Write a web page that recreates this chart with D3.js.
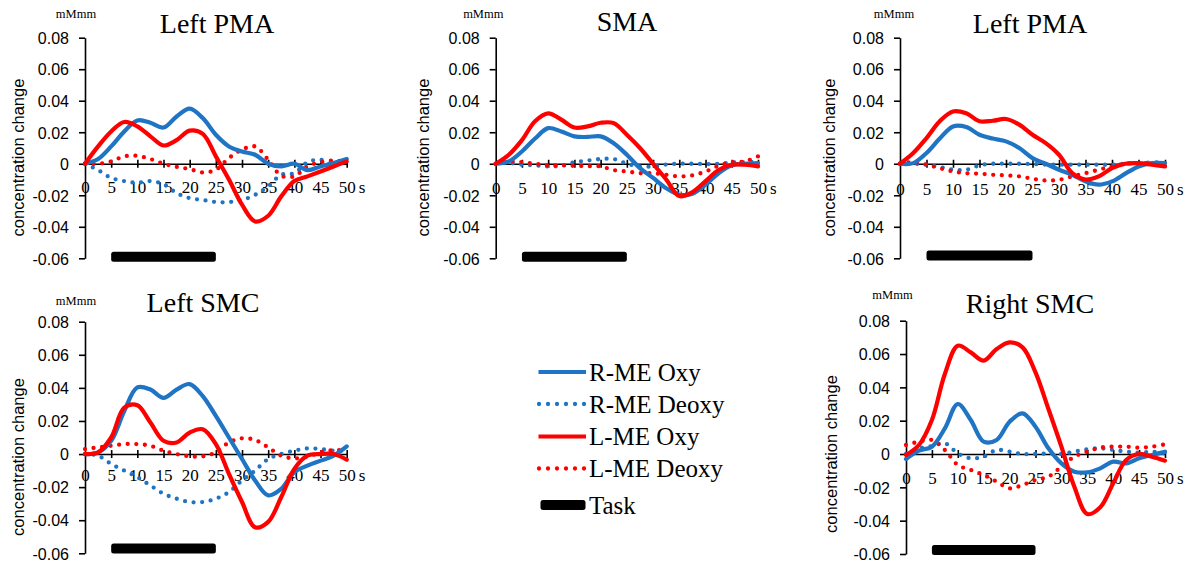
<!DOCTYPE html>
<html>
<head>
<meta charset="utf-8">
<script src="https://cdn.jsdelivr.net/npm/d3@7"></script>
<style>
  html, body { margin: 0; padding: 0; background: #fff; }
  svg { display: block; }
</style>
</head>
<body>
<svg id="chart" width="1192" height="565"></svg>
<script>
// Time after task onset (s)
const time = [0, 2.5, 5, 7.5, 10, 12.5, 15, 17.5, 20, 22.5, 25, 27.5, 30, 32.5, 35, 37.5, 40, 42.5, 45, 47.5, 50];
const xTicks = [0, 5, 10, 15, 20, 25, 30, 35, 40, 45, 50];
const yTicks = [-0.06, -0.04, -0.02, 0, 0.02, 0.04, 0.06, 0.08];
const yTickLabels = ["-0.06", "-0.04", "-0.02", "0", "0.02", "0.04", "0.06", "0.08"];
const taskWindow = [5, 25];

const seriesNames = ["R-ME Oxy", "R-ME Deoxy", "L-ME Oxy", "L-ME Deoxy"];
const panelTitles = ["Left PMA", "SMA", "Left PMA", "Left SMC", "Right SMC"];
const unitLabel = "mMmm";
const yAxisTitle = "concentration change";

// Haemoglobin concentration change (mM·mm), one array per panel and series
const pma1ROxy   = [0, 0.003, 0.011, 0.0205, 0.0275, 0.026, 0.023, 0.030, 0.035, 0.029, 0.0184, 0.011, 0.0078, 0.0057, 0, -0.0017, 0, -0.004, -0.0017, 0.0004, 0.003];
const pma1RDeoxy = [0, -0.004, -0.009, -0.011, -0.012, -0.011, -0.013, -0.0186, -0.0218, -0.023, -0.0243, -0.0243, -0.023, -0.0197, -0.0144, -0.007, -0.006, 0.001, 0.0025, -0.0006, 0.0025];
const pma1LOxy   = [0, 0.011, 0.0205, 0.0265, 0.0237, 0.0174, 0.0116, 0.015, 0.021, 0.019, 0.0047, -0.010, -0.026, -0.0366, -0.033, -0.0207, -0.011, -0.008, -0.0049, -0.0017, 0.0015];
const pma1LDeoxy = [0, 0, 0.0015, 0.0047, 0.005, 0.003, 0, -0.002, -0.0034, -0.0055, -0.0038, 0.0036, 0.0089, 0.011, 0.0025, -0.0076, -0.008, -0.0017, 0.001, 0.002, 0.0015];

const smaROxy   = [0, 0.0015, 0.0078, 0.016, 0.0226, 0.0205, 0.0174, 0.017, 0.0174, 0.013, 0.0057, -0.0028, -0.009, -0.0155, -0.0197, -0.019, -0.0133, -0.006, -0.001, 0, 0.0004];
const smaRDeoxy = [0, 0.0005, -0.0006, -0.001, -0.0017, -0.0012, 0.001, 0.002, 0.003, 0.003, 0, -0.0017, -0.0017, -0.0005, 0, 0, -0.0002, 0, 0.0008, 0.001, 0.0015];
const smaLOxy   = [0, 0.0057, 0.015, 0.027, 0.032, 0.028, 0.023, 0.0237, 0.026, 0.0258, 0.0184, 0.01, 0, -0.01, -0.0205, -0.018, -0.011, -0.004, -0.0006, -0.0006, -0.0017];
const smaLDeoxy = [0, 0.0015, 0.001, 0, -0.001, -0.001, -0.0013, -0.0015, -0.0017, -0.004, -0.0049, -0.006, -0.006, -0.007, -0.008, -0.0074, -0.0049, -0.0013, 0.001, 0.0015, 0.0047];

const pma2ROxy   = [0, 0.0004, 0.0068, 0.016, 0.0237, 0.0233, 0.0184, 0.016, 0.0142, 0.01, 0.0036, 0, -0.0038, -0.007, -0.0112, -0.0133, -0.0112, -0.0063, -0.0017, 0.0004, 0.0004];
const pma2RDeoxy = [0, 0, -0.0006, -0.002, -0.0038, -0.0038, -0.001, 0, 0, 0, -0.0002, -0.0005, -0.0006, -0.0006, -0.0006, -0.0006, -0.0006, 0, 0.0004, 0.0008, 0.001];
const pma2LOxy   = [0, 0.0068, 0.0163, 0.027, 0.0332, 0.032, 0.027, 0.0273, 0.0284, 0.0248, 0.0184, 0.0131, 0.0057, -0.006, -0.010, -0.008, -0.0028, 0, 0.0004, -0.0006, -0.0017];
const pma2LDeoxy = [0, 0.001, -0.0006, -0.0028, -0.0049, -0.006, -0.0063, -0.007, -0.0074, -0.008, -0.0095, -0.0106, -0.0102, -0.008, -0.006, -0.0038, -0.0017, 0, 0.0004, 0.0004, 0];

const lsmcROxy   = [0, 0.001, 0.008, 0.026, 0.0403, 0.039, 0.034, 0.039, 0.0423, 0.035, 0.023, 0.010, -0.003, -0.016, -0.025, -0.021, -0.011, -0.007, -0.004, -0.001, 0.0046];
const lsmcRDeoxy = [0, -0.001, -0.006, -0.010, -0.014, -0.019, -0.024, -0.027, -0.029, -0.029, -0.027, -0.023, -0.016, -0.010, -0.003, 0, 0.002, 0.0034, 0.003, 0.002, 0.002];
const lsmcLOxy   = [0, 0.001, 0.010, 0.028, 0.0295, 0.019, 0.008, 0.007, 0.013, 0.015, 0.006, -0.012, -0.029, -0.0443, -0.041, -0.026, -0.009, -0.001, 0, 0, -0.0034];
const lsmcLDeoxy = [0.003, 0.004, 0.005, 0.006, 0.006, 0.005, 0.002, 0, -0.0014, -0.0014, 0.001, 0.007, 0.0095, 0.0085, 0.004, -0.001, -0.0026, -0.0016, 0.001, 0.0024, 0.002];

const rsmcROxy   = [-0.003, 0.002, 0.0044, 0.0154, 0.030, 0.0204, 0.0074, 0.0084, 0.0194, 0.0244, 0.0164, 0.0034, -0.0056, -0.0106, -0.011, -0.0086, -0.0046, -0.0056, -0.0026, -0.0006, 0.0014];
const rsmcRDeoxy = [0, 0.0034, 0.0048, 0.0064, 0.0004, -0.0026, -0.0016, 0.0024, 0.0014, 0, 0, 0.0002, 0, 0.0014, 0.0028, 0.0034, 0.0024, 0.0014, 0.0008, 0.0014, 0.0004];
const rsmcLOxy   = [-0.0006, 0.0054, 0.0204, 0.048, 0.065, 0.061, 0.056, 0.063, 0.067, 0.064, 0.049, 0.027, 0.0044, -0.0196, -0.036, -0.032, -0.0176, -0.0036, 0, -0.0016, -0.004];
const rsmcLDeoxy = [0.0054, 0.0074, 0.0084, 0.0024, -0.0066, -0.0096, -0.0126, -0.0166, -0.0206, -0.0186, -0.0156, -0.0136, -0.0076, -0.0016, 0.0014, 0.0038, 0.0044, 0.0044, 0.0038, 0.0044, 0.0058];

const panelSeries = [
  [pma1ROxy, pma1RDeoxy, pma1LOxy, pma1LDeoxy],
  [smaROxy, smaRDeoxy, smaLOxy, smaLDeoxy],
  [pma2ROxy, pma2RDeoxy, pma2LOxy, pma2LDeoxy],
  [lsmcROxy, lsmcRDeoxy, lsmcLOxy, lsmcLDeoxy],
  [rsmcROxy, rsmcRDeoxy, rsmcLOxy, rsmcLDeoxy]
];

// ---- layout & style ----
const BLUE = "#1f74c4", RED = "#ff0000";
const seriesStyle = [
  { color: BLUE, dotted: false },
  { color: BLUE, dotted: true },
  { color: RED, dotted: false },
  { color: RED, dotted: true }
];
const layout = [
  { x0: 85,    x1: 346.7, yTop: 37.7,  yBot: 258.3, titleX: 217,  titleY: 33.3, unitX: 76,    unitY: 17.5, axTitleX: 18,    labelDy: 29.5, taskY: 256.7 },
  { x0: 495.7, x1: 758,   yTop: 37.7,  yBot: 258.3, titleX: 627,  titleY: 30.5, unitX: 483.3, unitY: 17.5, axTitleX: 423.5, labelDy: 30.5, taskY: 256.7 },
  { x0: 900,   x1: 1165,  yTop: 37.7,  yBot: 258.3, titleX: 1030, titleY: 32.5, unitX: 894,   unitY: 17.5, axTitleX: 829,   labelDy: 31,   taskY: 255.5 },
  { x0: 85,    x1: 346.7, yTop: 321.7, yBot: 553.3, titleX: 203,  titleY: 312,  unitX: 76,    unitY: 305,  axTitleX: 18,    labelDy: 26.5, taskY: 548.5 },
  { x0: 906,   x1: 1165,  yTop: 320.7, yBot: 554,   titleX: 1030, titleY: 313,  unitX: 892.5, unitY: 299,  axTitleX: 831,   labelDy: 30,   taskY: 550 }
];
const axTitleY = [157.5, 157.5, 157.5, 457, 454];

const svg = d3.select("#chart");
const SERIF = "'Liberation Serif', 'Times New Roman', serif";
const SANS = "'Liberation Sans', Arial, sans-serif";

layout.forEach((L, i) => {
  const g = svg.append("g");
  const x = d3.scaleLinear().domain([0, 50]).range([L.x0, L.x1]);
  const y = d3.scaleLinear().domain([-0.06, 0.08]).range([L.yBot, L.yTop]);

  // y axis
  const yAxis = d3.axisLeft(y).tickValues(yTicks)
    .tickFormat((d, k) => yTickLabels[k]).tickSizeInner(6).tickSizeOuter(0).tickPadding(10);
  const ya = g.append("g").attr("transform", `translate(${L.x0},0)`).call(yAxis);
  ya.select(".domain").attr("stroke", "#000").attr("stroke-width", 1.6);
  ya.selectAll(".tick line").attr("stroke", "#000").attr("stroke-width", 1.6);
  ya.selectAll(".tick text").attr("font-family", SANS).attr("font-size", 16).attr("fill", "#000")
    .attr("dy", "0.36em");

  // x axis along zero line, ticks crossing it
  const xAxis = d3.axisBottom(x).tickValues(xTicks).tickSizeInner(4).tickSizeOuter(0);
  const xa = g.append("g").attr("transform", `translate(0,${y(0)})`).call(xAxis);
  xa.select(".domain").attr("stroke", "#000").attr("stroke-width", 1.6);
  xa.selectAll(".tick line").attr("stroke", "#000").attr("stroke-width", 1.6).attr("y1", -4).attr("y2", 4)
    .filter(d => d === 0).remove();
  xa.selectAll(".tick text").attr("font-family", SERIF).attr("font-size", 17).attr("fill", "#000")
    .attr("y", L.labelDy).attr("dy", 0);
  g.append("text").attr("x", L.x1 + 12).attr("y", y(0) + L.labelDy)
    .attr("font-family", SERIF).attr("font-size", 17).text("s");

  // series lines
  const line = d3.line().x((d, k) => x(time[k])).y(d => y(d)).curve(d3.curveCatmullRom.alpha(0.5));
  const order = [1, 3, 0, 2];
  order.forEach(s => {
    const st = seriesStyle[s];
    g.append("path").datum(panelSeries[i][s])
      .attr("d", line)
      .attr("fill", "none")
      .attr("stroke", st.color)
      .attr("stroke-width", st.dotted ? 4.3 : 4.2)
      .attr("stroke-linecap", "round")
      .attr("stroke-linejoin", "round")
      .attr("stroke-dasharray", st.dotted ? "0 8.6" : null);
  });

  // task period bar
  g.append("rect")
    .attr("x", x(taskWindow[0])).attr("width", x(taskWindow[1]) - x(taskWindow[0]))
    .attr("y", L.taskY - 5).attr("height", 10).attr("rx", 2.5).attr("fill", "#000");

  // titles & labels
  g.append("text").attr("x", L.titleX).attr("y", L.titleY).attr("text-anchor", "middle")
    .attr("font-family", SERIF).attr("font-size", 28).attr("fill", "#000").text(panelTitles[i]);
  g.append("text").attr("x", L.unitX).attr("y", L.unitY).attr("text-anchor", "middle")
    .attr("font-family", SERIF).attr("font-size", 12.5).attr("fill", "#000").text(unitLabel);
  g.append("text").attr("transform", `translate(${L.axTitleX},${axTitleY[i]}) rotate(-90)`)
    .attr("text-anchor", "middle").attr("dy", "0.35em")
    .attr("font-family", SANS).attr("font-size", 16.5).attr("fill", "#000").text(yAxisTitle);
});

// legend
const legend = svg.append("g");
const legendRows = [372, 404, 436.5, 468.5];
seriesNames.forEach((name, k) => {
  const st = seriesStyle[k];
  legend.append("line").attr("x1", st.dotted ? 539 : 538.5).attr("x2", 586)
    .attr("y1", legendRows[k]).attr("y2", legendRows[k])
    .attr("stroke", st.color).attr("stroke-width", st.dotted ? 4.3 : 4.2)
    .attr("stroke-linecap", st.dotted ? "round" : "butt")
    .attr("stroke-dasharray", st.dotted ? "0 9" : null);
  legend.append("text").attr("x", 589).attr("y", legendRows[k] + 8.5)
    .attr("font-family", SERIF).attr("font-size", 25).attr("fill", "#000").text(name);
});
legend.append("rect").attr("x", 540.5).attr("y", 500).attr("width", 45).attr("height", 10)
  .attr("rx", 2.5).attr("fill", "#000");
legend.append("text").attr("x", 589).attr("y", 513.5)
  .attr("font-family", SERIF).attr("font-size", 25).attr("fill", "#000").text("Task");
</script>
</body>
</html>
